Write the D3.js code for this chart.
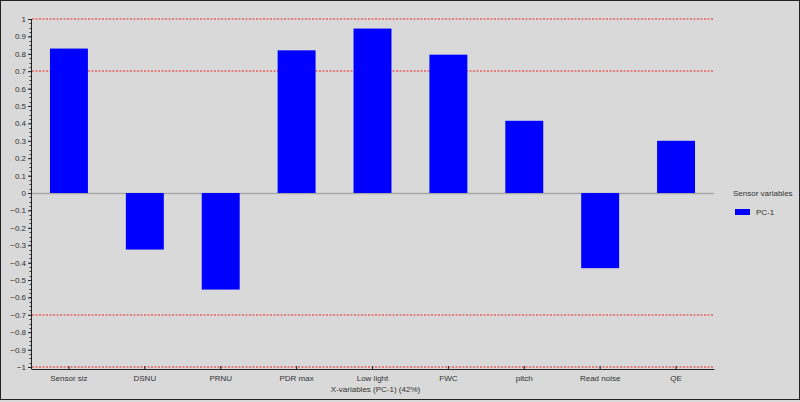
<!DOCTYPE html>
<html>
<head>
<meta charset="utf-8">
<script src="https://cdn.jsdelivr.net/npm/d3@7"></script>
<style>
  body { margin: 0; background: #fff; }
  svg { display: block; font-family: "Liberation Sans", Arial, sans-serif; }
</style>
</head>
<body>
<svg id="chart" width="800" height="402"></svg>
<script>
// data
const categories = ["Sensor siz", "DSNU", "PRNU", "PDR max", "Low light", "FWC", "pitch", "Read noise", "QE"];
const pc1 = [0.83, -0.325, -0.555, 0.82, 0.945, 0.795, 0.415, -0.432, 0.30];
const yTicks = [1, 0.9, 0.8, 0.7, 0.6, 0.5, 0.4, 0.3, 0.2, 0.1, 0, -0.1, -0.2, -0.3, -0.4, -0.5, -0.6, -0.7, -0.8, -0.9, -1];
const limitLines = [1, 0.7, -0.7, -1];
const seriesName = "PC-1";
const legendTitle = "Sensor variables";
const xTitle = "X-variables (PC-1) (42%)";

const svg = d3.select("#chart");
const W = 800, H = 402;
const margin = { top: 19, right: 86, bottom: 35, left: 31 };
const width = W - margin.left - margin.right;
const height = H - margin.top - margin.bottom;

// background + frame
svg.append("rect").attr("width", W).attr("height", H).attr("fill", "#d9d9d9");
svg.append("rect").attr("x", 0.5).attr("y", 0.5).attr("width", W - 1).attr("height", H - 3)
    .attr("fill", "none").attr("stroke", "#222").attr("stroke-width", 1);

const g = svg.append("g").attr("transform", `translate(${margin.left},${margin.top})`);

const x = d3.scaleBand().domain(categories).range([0, width]).paddingInner(0.5).paddingOuter(0.25);
const y = d3.scaleLinear().domain([-1, 1]).range([height, 0]);

// limit lines (dotted red)
g.selectAll(".limit").data(limitLines).enter().append("line")
    .attr("class", "limit")
    .attr("x1", 1).attr("x2", width)
    .attr("y1", d => Math.round(y(d))).attr("y2", d => Math.round(y(d)))
    .attr("stroke", "#e86060").attr("stroke-width", 1.4)
    .attr("stroke-dasharray", "2,1.5");

// zero line
g.append("line").attr("x1", 0).attr("x2", width)
    .attr("y1", y(0) + 0.5).attr("y2", y(0) + 0.5)
    .attr("stroke", "#a8a8a8").attr("stroke-width", 1.5);

// bars
g.selectAll(".bar").data(pc1).enter().append("rect")
    .attr("x", (d, i) => x(categories[i]))
    .attr("width", x.bandwidth())
    .attr("y", d => y(Math.max(0, d)))
    .attr("height", d => Math.abs(y(d) - y(0)))
    .attr("fill", "#0000ff");

// minor ticks on y
const minor = d3.range(-1, 1.0001, 0.025);
g.append("g").selectAll("line").data(minor).enter().append("line")
    .attr("x1", -1.5).attr("x2", 0)
    .attr("y1", d => Math.round(y(d)) + 0.5).attr("y2", d => Math.round(y(d)) + 0.5)
    .attr("stroke", "#333");

// y axis
const yAxis = g.append("g")
    .call(d3.axisLeft(y).tickValues(yTicks).tickSize(3).tickSizeOuter(0).tickPadding(2)
        .tickFormat(d => d3.format("")(+d.toFixed(1))));
yAxis.select(".domain").attr("stroke", "#222").attr("d", `M0.5,0V${height + 2}`);
yAxis.selectAll(".tick line").attr("stroke", "#222");
yAxis.selectAll("text").attr("font-size", 8).attr("fill", "#333");

// x axis (sits just below -1)
const xAxis = g.append("g").attr("transform", `translate(0,${height + 2})`)
    .call(d3.axisBottom(x).tickSize(3).tickPadding(3).tickSizeOuter(0));
xAxis.select(".domain").attr("stroke", "#222");
xAxis.selectAll(".tick line").attr("stroke", "#222").attr("y1", -3).attr("y2", 0);
xAxis.selectAll("text").attr("font-size", 8).attr("fill", "#333");

// x title
svg.append("text").attr("x", margin.left + width / 2 + 3).attr("y", 392)
    .attr("text-anchor", "middle").attr("font-size", 8).attr("fill", "#333").text(xTitle);

// legend
const lg = svg.append("g").attr("transform", `translate(733,0)`);
lg.append("text").attr("x", 0).attr("y", 196).attr("font-size", 8).attr("fill", "#333").text(legendTitle);
lg.append("rect").attr("x", 2).attr("y", 209).attr("width", 15).attr("height", 6).attr("fill", "#0000ff");
lg.append("text").attr("x", 23).attr("y", 215).attr("font-size", 8).attr("fill", "#333").text(seriesName);
</script>
</body>
</html>
